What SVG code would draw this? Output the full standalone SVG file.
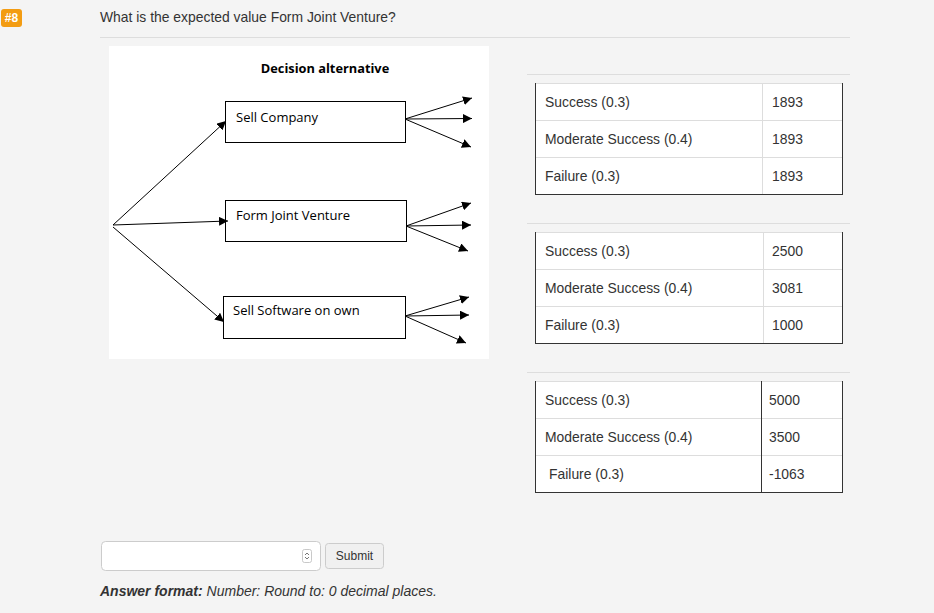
<svg xmlns="http://www.w3.org/2000/svg" width="934" height="613" viewBox="0 0 934 613">
<style>
.q{font-family:"Liberation Sans",Arial,sans-serif;font-size:13.9px;fill:#333}
.d{font-family:"Open Sans","Noto Sans",sans-serif;font-size:13px;fill:#000}
.box{fill:#fff;stroke:#000;stroke-width:1}
.c line{stroke:#000;stroke-width:1}
.sep{stroke:#ddd;stroke-width:1}
.tb{fill:#fff;stroke:none}
.dk{stroke:#333;stroke-width:1}
.lt{stroke:#ddd;stroke-width:1}
</style>
<defs>
<marker id="ah" viewBox="0 0 10 10" refX="10" refY="5" markerWidth="9" markerHeight="9" markerUnits="userSpaceOnUse" orient="auto"><path d="M0,0 L10,5 L0,10 z" fill="#000"/></marker>
</defs>
<rect x="0" y="0" width="934" height="613" fill="#f4f4f4"/>
<g id="badge"><rect x="1" y="9" width="21" height="18" rx="3" fill="#f39c12"/><text x="11.5" y="22" text-anchor="middle" font-family="Liberation Sans,Arial,sans-serif" font-size="12" font-weight="bold" fill="#fff">#8</text></g>
<text class="q" x="100" y="22">What is the expected value Form Joint Venture?</text>
<line class="sep" x1="100" y1="37.5" x2="850" y2="37.5"/>
<rect x="109" y="46" width="380" height="313" fill="#fff"/>
<text x="325" y="73" text-anchor="middle" font-family="Open Sans,Noto Sans,sans-serif" font-size="12.8" font-weight="bold" fill="#000">Decision alternative</text>
<g id="sell-company"><rect class="box" x="225.5" y="101.5" width="180" height="41"/><text class="d" x="236" y="122">Sell Company</text></g>
<g id="form-jv"><rect class="box" x="225.5" y="200.5" width="181" height="41"/><text class="d" x="236" y="220">Form Joint Venture</text></g>
<g id="sell-software"><rect class="box" x="223.5" y="296.5" width="182" height="42"/><text class="d" x="233" y="315">Sell Software on own</text></g>
<g id="connectors" class="c">
<line x1="113" y1="225" x2="226" y2="121" marker-end="url(#ah)"/>
<line x1="113" y1="225" x2="228" y2="221" marker-end="url(#ah)"/>
<line x1="113" y1="227" x2="224" y2="322" marker-end="url(#ah)"/>
<line x1="405" y1="119" x2="472" y2="98" marker-end="url(#ah)"/>
<line x1="405" y1="119" x2="472" y2="118.5" marker-end="url(#ah)"/>
<line x1="405" y1="119" x2="471" y2="147" marker-end="url(#ah)"/>
<line x1="406" y1="226" x2="471" y2="203" marker-end="url(#ah)"/>
<line x1="406" y1="226" x2="471" y2="225" marker-end="url(#ah)"/>
<line x1="406" y1="226" x2="468" y2="251" marker-end="url(#ah)"/>
<line x1="405" y1="316" x2="469" y2="297" marker-end="url(#ah)"/>
<line x1="405" y1="316" x2="469" y2="315" marker-end="url(#ah)"/>
<line x1="405" y1="316" x2="466" y2="343" marker-end="url(#ah)"/>
</g>
<g id="table1">
<line class="sep" x1="527" y1="74.5" x2="850" y2="74.5"/>
<rect class="tb" x="535" y="83" width="307" height="111"/>
<line class="lt" x1="535" y1="83.5" x2="842" y2="83.5"/>
<line class="lt" x1="535" y1="120.5" x2="842" y2="120.5"/>
<line class="lt" x1="535" y1="157.5" x2="842" y2="157.5"/>
<line class="lt" x1="762.5" y1="83" x2="762.5" y2="194"/>
<line class="dk" x1="535.5" y1="83" x2="535.5" y2="194"/>
<line class="dk" x1="842.5" y1="83" x2="842.5" y2="194"/>
<line class="dk" x1="535" y1="194.5" x2="843" y2="194.5"/>
<text class="q" x="545" y="107">Success (0.3)</text><text class="q" x="772" y="107">1893</text>
<text class="q" x="545" y="144">Moderate Success (0.4)</text><text class="q" x="772" y="144">1893</text>
<text class="q" x="545" y="181">Failure (0.3)</text><text class="q" x="772" y="181">1893</text>
</g>
<g id="table2">
<line class="sep" x1="527" y1="223.5" x2="850" y2="223.5"/>
<rect class="tb" x="535" y="232" width="307" height="111"/>
<line class="lt" x1="535" y1="232.5" x2="842" y2="232.5"/>
<line class="lt" x1="535" y1="269.5" x2="842" y2="269.5"/>
<line class="lt" x1="535" y1="306.5" x2="842" y2="306.5"/>
<line class="lt" x1="763.5" y1="232" x2="763.5" y2="343"/>
<line class="dk" x1="535.5" y1="232" x2="535.5" y2="343"/>
<line class="dk" x1="842.5" y1="232" x2="842.5" y2="343"/>
<line class="dk" x1="535" y1="343.5" x2="843" y2="343.5"/>
<text class="q" x="545" y="256">Success (0.3)</text><text class="q" x="772" y="256">2500</text>
<text class="q" x="545" y="293">Moderate Success (0.4)</text><text class="q" x="772" y="293">3081</text>
<text class="q" x="545" y="330">Failure (0.3)</text><text class="q" x="772" y="330">1000</text>
</g>
<g id="table3">
<line class="sep" x1="527" y1="372.5" x2="850" y2="372.5"/>
<rect class="tb" x="535" y="381" width="307" height="111"/>
<line class="lt" x1="535" y1="381.5" x2="842" y2="381.5"/>
<line class="lt" x1="535" y1="418.5" x2="842" y2="418.5"/>
<line class="lt" x1="535" y1="455.5" x2="842" y2="455.5"/>
<line class="dk" x1="761.5" y1="381" x2="761.5" y2="492"/>
<line class="dk" x1="535.5" y1="381" x2="535.5" y2="492"/>
<line class="dk" x1="842.5" y1="381" x2="842.5" y2="492"/>
<line class="dk" x1="535" y1="492.5" x2="843" y2="492.5"/>
<text class="q" x="545" y="405">Success (0.3)</text><text class="q" x="769" y="405">5000</text>
<text class="q" x="545" y="442">Moderate Success (0.4)</text><text class="q" x="769" y="442">3500</text>
<text class="q" x="549" y="479">Failure (0.3)</text><text class="q" x="769" y="479">-1063</text>
</g>
<g id="input">
<rect x="101.5" y="541.5" width="219" height="29" rx="4" fill="#fff" stroke="#ccc"/>
<rect x="302.5" y="549.5" width="9" height="13" rx="2" fill="#fff" stroke="#bbb" stroke-width="0.8"/>
<path d="M305,555 l2,-2 l2,2 M305,557 l2,2 l2,-2" fill="none" stroke="#555" stroke-width="0.8"/>
</g>
<g id="submit">
<rect x="325.5" y="543.5" width="58" height="25" rx="3" fill="#f0f0f0" stroke="#ccc"/>
<text x="354.5" y="560" text-anchor="middle" font-family="Liberation Sans,Arial,sans-serif" font-size="12" fill="#333">Submit</text>
</g>
<text x="100" y="596" font-family="Liberation Sans,Arial,sans-serif" font-size="14" font-style="italic" fill="#333"><tspan font-weight="bold">Answer format:</tspan> Number: Round to: 0 decimal places.</text>
</svg>
